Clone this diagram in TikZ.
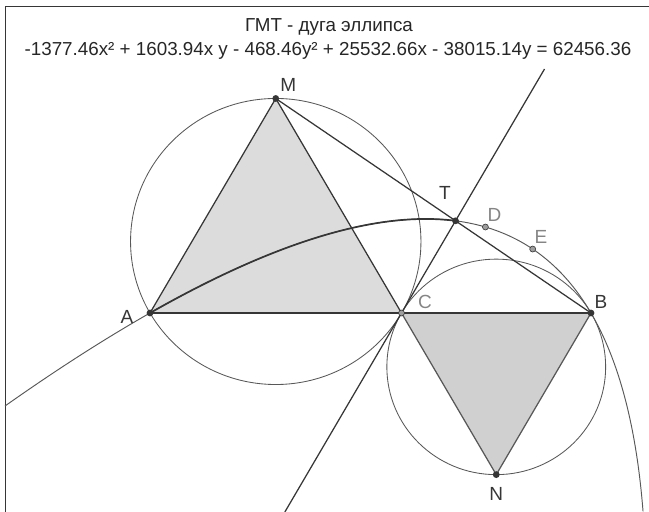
\documentclass[tikz,border=0pt]{standalone}
\usepackage{fontspec}
\setmainfont{Liberation Sans}
\usepackage{tikz}
\usetikzlibrary{calc,positioning}
\definecolor{geodark}{HTML}{363636}
\definecolor{geomid}{HTML}{585858}
\definecolor{geolight}{HTML}{858585}
\definecolor{fillup}{HTML}{DCDCDC}
\definecolor{filldown}{HTML}{D0D0D0}

\begin{document}
\begin{tikzpicture}[
  x=1pt,y=0.985pt,
  ln/.style={geodark,line width=1.25pt},
  circ/.style={geomid,line width=0.85pt},
  locus/.style={geomid,line width=0.95pt},
  frm/.style={geodark,line width=1.3pt},
  pt/.style={fill=geodark},
  ptl/.style={fill=geolight!80,draw=geodark,line width=0.6pt},
  lbl/.style={text=geodark,font=\fontsize{19}{22}\selectfont,inner sep=0pt},
  lbll/.style={lbl,text=geolight},
  ttl/.style={text=black!85,font=\fontsize{18.8}{22}\selectfont,inner sep=0pt,anchor=base}]
  \useasboundingbox (-150pt,-199pt) rectangle (499pt,313pt);
  \def\L{441}
  % points of the construction
  \coordinate (A) at (0,0);
  \coordinate (C) at (251.5,0);
  \coordinate (B) at (\L,0);
  \coordinate (M) at (125.75,217.8);
  \coordinate (N) at (346.25,-164.1);
  \coordinate (O1) at (125.75,72.6);
  \coordinate (O2) at (346.25,-54.7);
  \coordinate (T) at ({220.5*0.5703*(3-0.5703)},{381.9*0.5703*(1-0.5703)});
  \coordinate (D) at ({220.5*0.6463*(3-0.6463)},{381.9*0.6463*(1-0.6463)});
  \coordinate (E) at ({220.5*0.7828*(3-0.7828)},{381.9*0.7828*(1-0.7828)});
  \coordinate (tanTop) at ($(C)+(60:286)$);
  \coordinate (tanBot) at ($(C)+(240:233.3)$);
  % frame and title
  \draw[frm] (-144.5pt,-199pt) |- (499pt,306.5pt);
  \node[ttl] (title) at (179pt,281.5pt) {ГМТ - дуга эллипса};
  \node[ttl] (eqn) at (178pt,258pt) {-1377.46x² + 1603.94x y - 468.46y² + 25532.66x - 38015.14y = 62456.36};
  % triangles
  \filldraw[fill=fillup,draw=geodark,line width=1.25pt] (A) -- (M) -- (C) -- cycle;
  \filldraw[fill=filldown,draw=geomid,line width=1.25pt] (C) -- (N) -- (B) -- cycle;
  % circles
  \draw[circ] (O1) circle[radius=145.2];
  \draw[circ] (O2) circle[radius=109.4];
  % lines
  \draw[ln] (A) -- (B);
  \draw[ln] (M) -- (B);
  \draw[ln] (tanBot) -- (tanTop);
  % the conic and the traced arc
  \draw[locus] plot[domain=-0.2052:1.3826,samples=150,smooth,variable=\t] ({220.5*\t*(3-\t)},{381.9*\t*(1-\t)});
  \draw[geodark,line width=1.7pt] plot[domain=0:0.5703,samples=60,smooth,variable=\t] ({220.5*\t*(3-\t)},{381.9*\t*(1-\t)});
  % dots
  \foreach \p in {A,M,B,N,T} \fill[pt] (\p) circle (3.4pt);
  \foreach \p in {C,D,E} \filldraw[ptl] (\p) circle (3pt);
  % labels
  \node[lbl] (lblA) at ([shift={(-23pt,-4pt)}]A) {A};
  \node[lbl] (lblM) at ([shift={(12.5pt,13.5pt)}]M) {M};
  \node[lbll] (lblC) at ([shift={(23.5pt,11pt)}]C) {C};
  \node[lbl] (lblB) at ([shift={(10pt,11pt)}]B) {B};
  \node[lbl] (lblN) at ([shift={(0pt,-19pt)}]N) {N};
  \node[lbl] (lblT) at ([shift={(-10.7pt,28pt)}]T) {T};
  \node[lbll] (lblD) at ([shift={(9pt,12pt)}]D) {D};
  \node[lbll] (lblE) at ([shift={(8.3pt,12pt)}]E) {E};
\end{tikzpicture}
\end{document}
